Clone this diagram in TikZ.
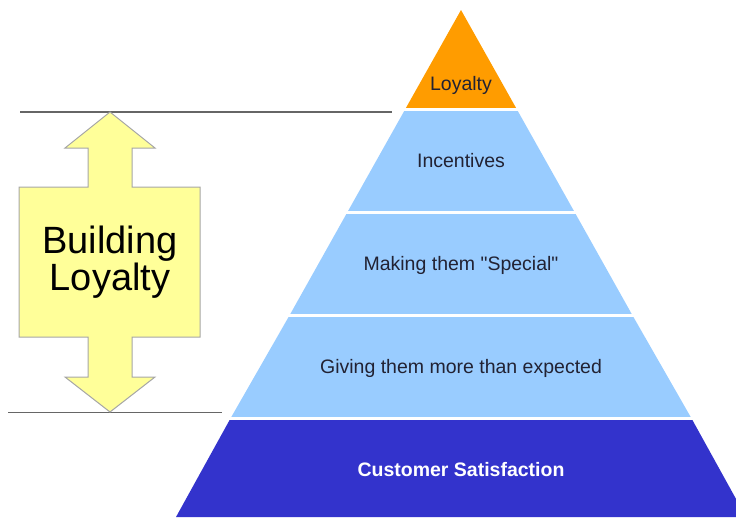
\documentclass[tikz,border=0pt]{standalone}
\usepackage{fontspec}
\setmainfont{Liberation Sans}
\newcommand{\straightq}{\XeTeXglyph\XeTeXcharglyph"22\relax}
\definecolor{topor}{HTML}{FF9C00}
\definecolor{lblue}{HTML}{99CCFF}
\definecolor{dblue}{HTML}{3333CC}
\definecolor{arrowy}{HTML}{FFFF99}
\definecolor{txt}{HTML}{222233}
\begin{document}
\begin{tikzpicture}[x=1pt,y=-1pt,
  layertext/.style={font=\fontsize{19.5}{22}\selectfont, text=txt},
  guide/.style={draw=gray!80!black, line width=1.3pt},
  gap/.style={draw=white, line width=3pt}]
\useasboundingbox (0,0) rectangle (736,517);
\clip (0,0) rectangle (736,517);
% pyramid layers (apex 461,10; slope 0.562)
\fill[topor] (461,10) -- (516.1,108) -- (405.9,108) -- cycle;
\fill[lblue] (405.9,108) -- (516.1,108) -- (574.8,212.5) -- (347.2,212.5) -- cycle;
\fill[lblue] (347.2,212.5) -- (574.8,212.5) -- (632,314.5) -- (290,314.5) -- cycle;
\fill[lblue] (290,314.5) -- (632,314.5) -- (691.4,418.2) -- (230.6,418.2) -- cycle;
\fill[dblue] (230.6,418.2) -- (691.4,418.2) -- (746,517) -- (176,517) -- cycle;
\draw[gap] (380,109.5) -- (545,109.5);
\draw[gap] (320,212.5) -- (600,212.5);
\draw[gap] (260,315.5) -- (660,315.5);
\draw[gap] (200,418.5) -- (720,418.5);
% texts
\node[layertext] (loy) at (461,85) {Loyalty};
\node[layertext] (inc) at (461,161) {Incentives};
\node[layertext] (spe) at (461,265) {Making them \straightq Special\straightq};
\node[layertext] (giv) at (461,368) {Giving them more than expected};
\node[layertext, text=white, font=\bfseries\fontsize{19.5}{22}\selectfont] (cus) at (461,470) {Customer Satisfaction};
% guide lines
\coordinate (g1a) at (20,112); \coordinate (g1b) at (392,112);
\coordinate (g2a) at (8,412.5); \coordinate (g2b) at (222,412.5);
\draw[guide] (g1a) -- (g1b);
\draw[guide] (g2a) -- (g2b);
% double arrow
\draw[fill=arrowy, draw=gray!70, line width=1pt, line join=miter]
  (110,112) -- (155,148) -- (132,148) -- (132,187) -- (200,187) -- (200,337)
  -- (132,337) -- (132,377) -- (155,377) -- (110,412) -- (65,377) -- (88,377)
  -- (88,337) -- (19,337) -- (19,187) -- (88,187) -- (88,148) -- (65,148) -- cycle;
\node[align=center, font=\fontsize{38}{37}\selectfont, text=black] (bl) at (110,262) {Building\\Loyalty};
\end{tikzpicture}
\end{document}
